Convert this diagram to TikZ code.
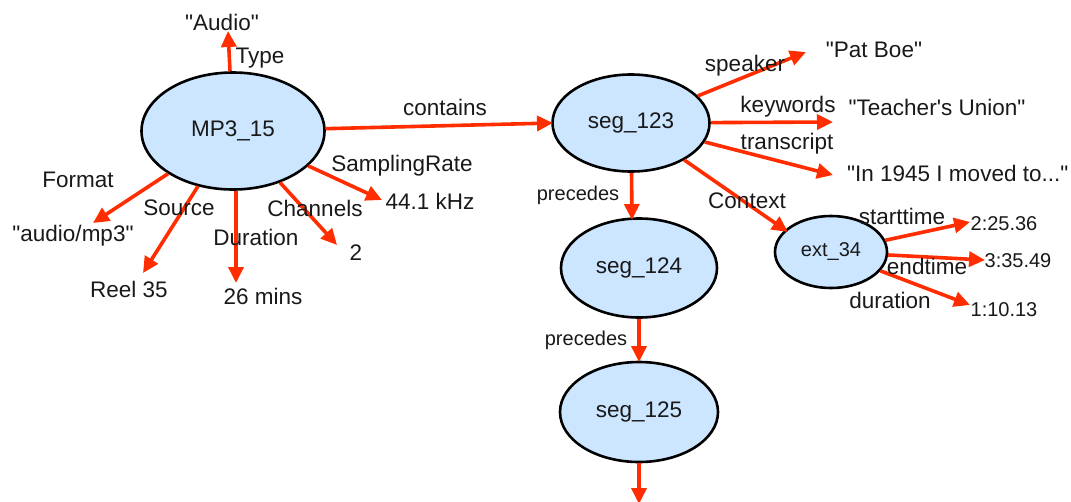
\documentclass[tikz,border=0pt]{standalone}
\usepackage{fontspec}
\setmainfont{Liberation Sans}[Ligatures=TeXOff]
\usetikzlibrary{shapes.geometric,arrows.meta}
\definecolor{edgered}{RGB}{255,45,0}
\definecolor{nodeblue}{RGB}{204,230,255}
\definecolor{txt}{RGB}{25,25,25}
\begin{document}
\begin{tikzpicture}[x=1pt,y=-1pt,
  res/.style={ellipse,draw=black,line width=2.6pt,fill=nodeblue,inner sep=0pt,text=txt,font=\fontsize{22.5}{27}\selectfont},
  lbl/.style={inner sep=0pt,text=txt,font=\fontsize{22.5}{27}\selectfont},
  slbl/.style={inner sep=0pt,text=txt,font=\fontsize{20}{24}\selectfont},
  rel/.style={draw=edgered,line width=3.6pt,-{Triangle[length=16pt,width=15pt]}},
]
\useasboundingbox (0,0) rectangle (1071,501);

% resources
\node[res,minimum width=183pt,minimum height=117pt] (mp3) at (233,131) {MP3\_15};
\node[res,minimum width=157pt,minimum height=97pt] (s123) at (631,123) {seg\_123};
\node[res,minimum width=156pt,minimum height=99pt] (s124) at (639,268) {seg\_124};
\node[res,minimum width=158pt,minimum height=100pt] (s125) at (639,412) {seg\_125};
\node[res,minimum width=112pt,minimum height=72pt,font=\fontsize{20}{24}\selectfont] (ext) at (831,252) {ext\_34};

% literal values
\node[lbl] (vAudio) at (222,22) {\textquotedbl Audio\textquotedbl};
\node[lbl] (vFmt) at (73,236) {\textquotedbl audio/mp3\textquotedbl};
\node[lbl] (vReel) at (129,289) {Reel 35};
\node[lbl] (vDur) at (263,296) {26 mins};
\node[lbl] (vCh) at (356,253) {2};
\node[lbl] (vSR) at (430,201) {44.1 kHz};
\node[lbl] (vPat) at (874,50) {\textquotedbl Pat Boe\textquotedbl};
\node[lbl] (vKey) at (937,107) {\textquotedbl Teacher\textquotesingle s Union\textquotedbl};
\node[lbl,anchor=west] (vTr) at (847,173) {\textquotedbl In 1945 I moved to...\textquotedbl};
\node[slbl] (vStart) at (1004,224) {2:25.36};
\node[slbl] (vEnd) at (1018,261) {3:35.49};
\node[slbl] (vEDur) at (1004,310) {1:10.13};

% arrow tips
\coordinate (tType) at (228,31);
\coordinate (tFmt) at (93,223);
\coordinate (tSrc) at (143,273);
\coordinate (tDur) at (236,283);
\coordinate (tCh) at (337,245);
\coordinate (tSR) at (382,200);
\coordinate (tCont) at (553,123);
\coordinate (tSpk) at (806,52);
\coordinate (tKey) at (833,122);
\coordinate (tTr) at (833,175);
\coordinate (tCtx) at (788,232);
\coordinate (tP1) at (632,220);
\coordinate (tP2) at (639,362);
\coordinate (tP3) at (639,504);
\coordinate (tSt) at (970,222);
\coordinate (tEn) at (985,260);
\coordinate (tED) at (970,305);

% connectors
\draw[rel] (mp3) -- (tType);
\draw[rel] (mp3) -- (tFmt);
\draw[rel] (mp3) -- (tSrc);
\draw[rel] (mp3.south -| tDur) -- (tDur);
\draw[rel] (mp3) -- (tCh);
\draw[rel] (mp3) -- (tSR);
\draw[rel] (mp3) -- (tCont);
\draw[rel] (s123) -- (tSpk);
\draw[rel] (s123) -- (tKey);
\draw[rel] (s123) -- (tTr);
\draw[rel] (s123) -- (tCtx);
\draw[rel] (s123) -- (tP1);
\draw[rel] (s124) -- (tP2);
\draw[rel] (s125) -- (tP3);
\draw[rel] (ext) -- (tSt);
\draw[rel] (ext) -- (tEn);
\draw[rel] (ext) -- (tED);

% edge labels
\node[lbl] (lType) at (260,58) {Type};
\node[lbl] (lFmt) at (78,180) {Format};
\node[lbl] (lSrc) at (179,208) {Source};
\node[lbl] (lDur) at (256,237) {Duration};
\node[lbl] (lCh) at (315,208) {Channels};
\node[lbl] (lSR) at (402,166) {SamplingRate};
\node[lbl] (lCont) at (445,107) {contains};
\node[slbl] (lP1) at (578,195) {precedes};
\node[slbl] (lP2) at (586,340) {precedes};
\node[lbl] (lSpk) at (745,66) {speaker};
\node[lbl] (lKey) at (788,107) {keywords};
\node[lbl] (lTr) at (787,144) {transcript};
\node[lbl] (lCtx) at (747,201) {Context};
\node[lbl] (lSt) at (902,216) {starttime};
\node[lbl] (lEn) at (927,266) {endtime};
\node[lbl] (lED) at (890,300) {duration};
\end{tikzpicture}
\end{document}
